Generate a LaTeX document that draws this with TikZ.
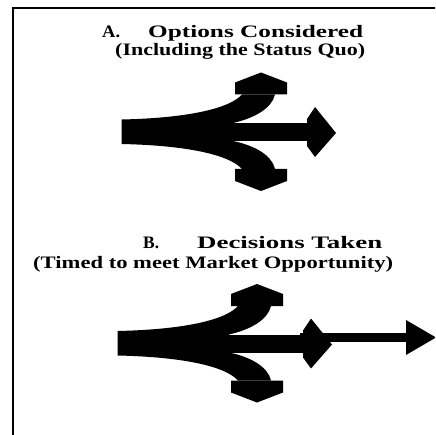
\documentclass[tikz,border=0pt]{standalone}
\usepackage{fontspec}
\setmainfont{Liberation Serif}
\usepackage{graphicx}
\newcommand{\fitw}[2]{\resizebox{#1}{\height}{#2}}
\tikzset{
  txt/.style={anchor=base west, inner sep=0pt, font=\fontsize{17.5}{20}\selectfont\bfseries},
  ink/.style={fill=black, draw=none},
  fork/.pic={
    % stem with the two curved branches
    \path[ink] (121.5,119.5) .. controls (190,118) and (230,108) .. (242,94.5)
      -- (275,94.5) .. controls (272,108) and (255,118) .. (233,123)
      -- (233,141) .. controls (255,145.5) and (272,155.5) .. (275,169)
      -- (242,169) .. controls (230,155.5) and (190,145.5) .. (121.5,144) -- cycle;
    % branch heads
    \path[ink] (235,94.5) -- (235,82.5) -- (261,72.5) -- (287,82.5) -- (287,94.5) -- cycle;
    \path[ink] (235,169) -- (235,181) -- (261,191) -- (287,181) -- (287,169) -- cycle;
    % middle shaft and diamond head
    \path[ink] (121.5,123) rectangle (308,141);
    \path[ink] (307,119) -- (315,107) -- (336,133) -- (315,157) -- (307,146) -- cycle;
  }
}
\begin{document}
\begin{tikzpicture}[x=1pt,y=-1pt]
\useasboundingbox (0,0) rectangle (435,435);
\clip (0,0) rectangle (435,435);
\draw[line width=2pt] (13,440) -- (13,7.7) -- (440,7.7);

\node[txt] (a1) at (102,37.3) {\fitw{18pt}{A.}};
\node[txt] (a2) at (148,37.3) {\fitw{215pt}{Options Considered}};
\node[txt] (a3) at (115,55.5) {\fitw{250pt}{(Including the Status Quo)}};

\node[txt] (b1) at (143,248.3) {\fitw{16pt}{B.}};
\node[txt] (b2) at (197,248.3) {\fitw{185pt}{Decisions Taken}};
\node[txt] (b3) at (33,268.5) {\fitw{360pt}{(Timed to meet Market Opportunity)}};

\pic at (0,0) {fork};
\pic at (-4,211.5) {fork};

% second, thinner arrow in B
\path[ink] (300,333.2) rectangle (407,341.7);
\path[ink] (406,320) -- (436,337.5) -- (406,355) -- cycle;
\end{tikzpicture}
\end{document}
